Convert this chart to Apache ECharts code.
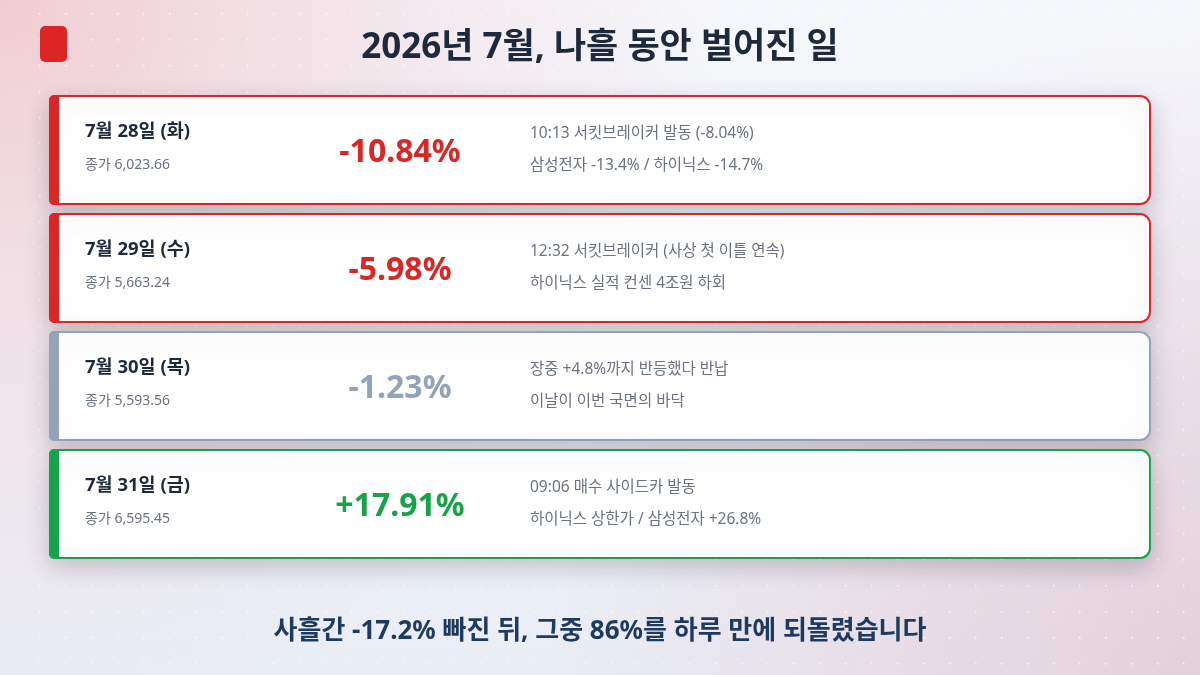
<!DOCTYPE html>
<html>
	<head>
		<meta charset="utf-8">
		<title>2026년 7월, 나흘 동안 벌어진 일</title>
		<script src="https://cdn.jsdelivr.net/npm/echarts@6.0.0/dist/echarts.min.js"></script>
		<style>
			html, body { margin: 0; padding: 0; }
			#main { width: 1200px; height: 675px; }
		</style>
	</head>
	<body>
	<div id="main"></div>
	<script type="text/javascript">
		// 데이터
		var days = ['7월 28일 (화)', '7월 29일 (수)', '7월 30일 (목)', '7월 31일 (금)'];
		var closes = [6023.66, 5663.24, 5593.56, 6595.45];
		var changes = [-10.84, -5.98, -1.23, 17.91];
		var tones = ['down', 'down', 'flat', 'up'];
		var notesTop = [
			'10:13 서킷브레이커 발동 (-8.04%)',
			'12:32 서킷브레이커 (사상 첫 이틀 연속)',
			'장중 +4.8%까지 반등했다 반납',
			'09:06 매수 사이드카 발동'
		];
		var notesBottom = [
			'삼성전자 -13.4% / 하이닉스 -14.7%',
			'하이닉스 실적 컨센 4조원 하회',
			'이날이 이번 국면의 바닥',
			'하이닉스 상한가 / 삼성전자 +26.8%'
		];
		var titleText = '2026년 7월, 나흘 동안 벌어진 일';
		var footText = '사흘간 -17.2% 빠진 뒤, 그중 86%를 하루 만에 되돌렸습니다';

		var toneColor = { down: '#dc2626', flat: '#94a3b8', up: '#16a34a' };
		var FONT = '"Noto Sans", "Noto Sans CJK KR", sans-serif';

		function fmtClose(v) {
			return '종가 ' + v.toLocaleString('en-US', { minimumFractionDigits: 2, maximumFractionDigits: 2 });
		}
		function fmtChange(v) {
			return (v > 0 ? '+' : '') + v.toFixed(2) + '%';
		}

		// 배경 점무늬
		var dot = document.createElement('canvas');
		dot.width = 26; dot.height = 26;
		var dctx = dot.getContext('2d');
		dctx.fillStyle = 'rgba(255,255,255,0.85)';
		dctx.fillRect(13, 13, 1.5, 1.5);

		var chart = echarts.init(document.getElementById('main'));

		function renderCard(params, api) {
			var i = api.value(1);
			var sys = params.coordSys;
			var cy = api.coord([0, i])[1];
			var h = api.size([0, 1])[1] - 10;
			var top = cy - h / 2;
			var left = sys.x, w = sys.width;
			var c = toneColor[tones[i]];
			return {
				type: 'group',
				children: [
					{
						type: 'rect',
						shape: { x: left, y: top, width: w, height: h, r: [5, 10, 10, 5] },
						style: {
							fill: '#ffffff', stroke: c, lineWidth: 2,
							shadowBlur: 24, shadowOffsetY: 8, shadowColor: 'rgba(30,30,50,0.22)'
						}
					},
					{
						type: 'rect',
						shape: { x: left - 1, y: top - 1, width: 10, height: h + 2, r: [5, 0, 0, 5] },
						style: { fill: c }
					},
					{
						type: 'text',
						style: { text: days[i], x: left + 35, y: top + 36, fill: '#1e293b', font: 'bold 18.5px ' + FONT, align: 'left', verticalAlign: 'middle' }
					},
					{
						type: 'text',
						style: { text: fmtClose(closes[i]), x: left + 35, y: top + 69, fill: '#6b7280', font: '14px ' + FONT, align: 'left', verticalAlign: 'middle' }
					},
					{
						type: 'text',
						style: { text: fmtChange(changes[i]), x: left + 350, y: top + 57, fill: c, font: 'bold 32px ' + FONT, align: 'center', verticalAlign: 'middle' }
					},
					{
						type: 'text',
						style: { text: notesTop[i], x: left + 480, y: top + 38, fill: '#6b7280', font: '15.5px ' + FONT, align: 'left', verticalAlign: 'middle' }
					},
					{
						type: 'text',
						style: { text: notesBottom[i], x: left + 480, y: top + 70, fill: '#6b7280', font: '15.5px ' + FONT, align: 'left', verticalAlign: 'middle' }
					}
				]
			};
		}

		var option = {
			animation: false,
			graphic: [
				{
					type: 'rect', z: -10, silent: true,
					shape: { x: 0, y: 0, width: 1200, height: 675 },
					style: { fill: new echarts.graphic.LinearGradient(0, 0, 0, 1, [
						{ offset: 0, color: '#f6f7fb' }, { offset: 1, color: '#e9edf5' }
					]) }
				},
				{
					type: 'rect', z: -9, silent: true,
					shape: { x: 0, y: 0, width: 1200, height: 675 },
					style: { fill: { type: 'radial', x: 0, y: 0, r: 720, global: true, colorStops: [
						{ offset: 0, color: 'rgba(240,205,210,1)' },
						{ offset: 0.45, color: 'rgba(240,212,218,0.55)' },
						{ offset: 1, color: 'rgba(240,215,222,0)' }
					] } }
				},
				{
					type: 'rect', z: -9, silent: true,
					shape: { x: 0, y: 0, width: 1200, height: 675 },
					style: { fill: { type: 'radial', x: 1200, y: 675, r: 650, global: true, colorStops: [
						{ offset: 0, color: 'rgba(228,208,218,1)' },
						{ offset: 0.5, color: 'rgba(230,212,222,0.6)' },
						{ offset: 1, color: 'rgba(232,215,225,0)' }
					] } }
				},
				{
					type: 'rect', z: -8, silent: true,
					shape: { x: 26, y: 0, width: 1174, height: 675 },
					style: { fill: { image: dot, repeat: 'repeat' } }
				},
				{
					type: 'rect', z: 5,
					shape: { x: 40, y: 26, width: 27, height: 36, r: 5 },
					style: { fill: '#dc2626' }
				},
				{
					type: 'text', z: 5,
					style: { text: titleText, x: 600, y: 48, fill: '#1e293b', font: 'bold 35px ' + FONT, align: 'center', verticalAlign: 'middle' }
				},
				{
					type: 'text', z: 5,
					style: { text: footText, x: 600, y: 632, fill: '#1e3a5f', font: 'bold 26px ' + FONT, align: 'center', verticalAlign: 'middle' }
				}
			],
			grid: { left: 50, right: 50, top: 91, bottom: 112 },
			xAxis: { type: 'value', min: 0, max: 1, show: false },
			yAxis: { type: 'category', data: days, inverse: true, show: false },
			series: [{
				type: 'custom',
				renderItem: renderCard,
				data: days.map(function (d, i) { return [0, i]; })
			}]
		};
		chart.setOption(option);
	</script>
	</body>
</html>
